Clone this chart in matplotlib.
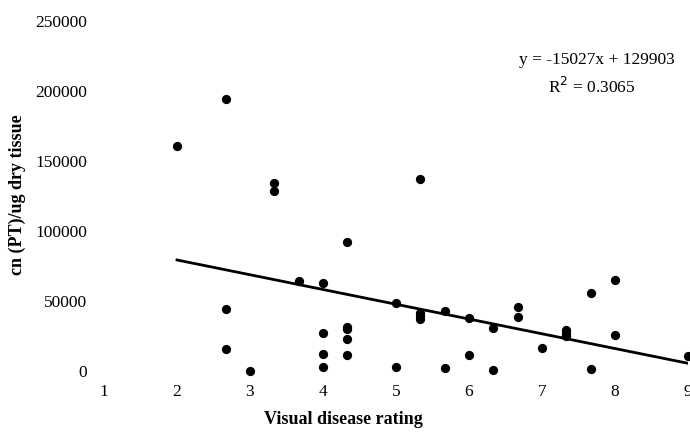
import numpy as np
import matplotlib.pyplot as plt

# visual disease rating vs cn (PT)/ug dry tissue
rating = [2, 2.67, 2.67, 2.67, 3, 3.33, 3.33, 3.67,
          4, 4, 4, 4, 4.33, 4.33, 4.33, 4.33, 4.33,
          5, 5, 5.33, 5.33, 5.33, 5.33, 5.67, 5.67,
          6, 6, 6.33, 6.33, 6.67, 6.67, 7,
          7.33, 7.33, 7.33, 7.67, 7.67, 8, 8, 9]
cn = [161000, 194000, 44000, 16000, 300, 134000, 128600, 64300,
      63100, 27100, 12100, 2900, 92400, 31700, 29800, 22900, 11400,
      48300, 3100, 137000, 41200, 39000, 37100, 42900, 2100,
      37600, 11200, 30500, 700, 45900, 38300, 16700,
      29300, 27000, 25200, 55700, 1700, 65200, 25700, 10500]

# trend line as drawn in the figure (endpoints)
trend_x = [2, 9]
trend_y = [79300, 5500]

eq_text = "y = -15027x + 129903"
r2_text = "R$^2$ = 0.3065"

xticks = [1, 2, 3, 4, 5, 6, 7, 8, 9]
yticks = [0, 50000, 100000, 150000, 200000, 250000]

plt.rcParams['font.family'] = ['Liberation Serif', 'DejaVu Serif']

fig = plt.figure(figsize=(6.9, 4.32), dpi=100)
ax = fig.add_axes([104/690, 1-371/432, (688-104)/690, (371-21)/432])

ax.scatter(rating, cn, s=32, color='black', zorder=3, clip_on=False)
ax.plot(trend_x, trend_y, color='black', lw=2)

ax.set_xlim(1, 9)
ax.set_ylim(0, 250000)
ax.set_xticks(xticks)
ax.set_yticks(yticks)
ax.set_xticklabels([str(t) for t in xticks])
ax.set_yticklabels([str(t) for t in yticks])
ax.tick_params(length=0, labelsize=12.5)
ax.tick_params(axis='x', pad=9)
ax.tick_params(axis='y', pad=12)
for s in ax.spines.values():
    s.set_visible(False)

fig.text(343/690, 1-419/432, "Visual disease rating", ha='center', va='center',
         fontsize=13, fontweight='bold')
fig.text(17/690, 1-195/432, "cn (PT)/ug dry tissue", ha='center', va='center',
         rotation=90, fontsize=13, fontweight='bold')

fig.text(675/690, 1-60/432, eq_text, ha='right', va='center', fontsize=12.5)
fig.text(592/690, 1-87/432, r2_text, ha='center', va='center', fontsize=12.5)

fig.savefig("out.png", dpi=100)
